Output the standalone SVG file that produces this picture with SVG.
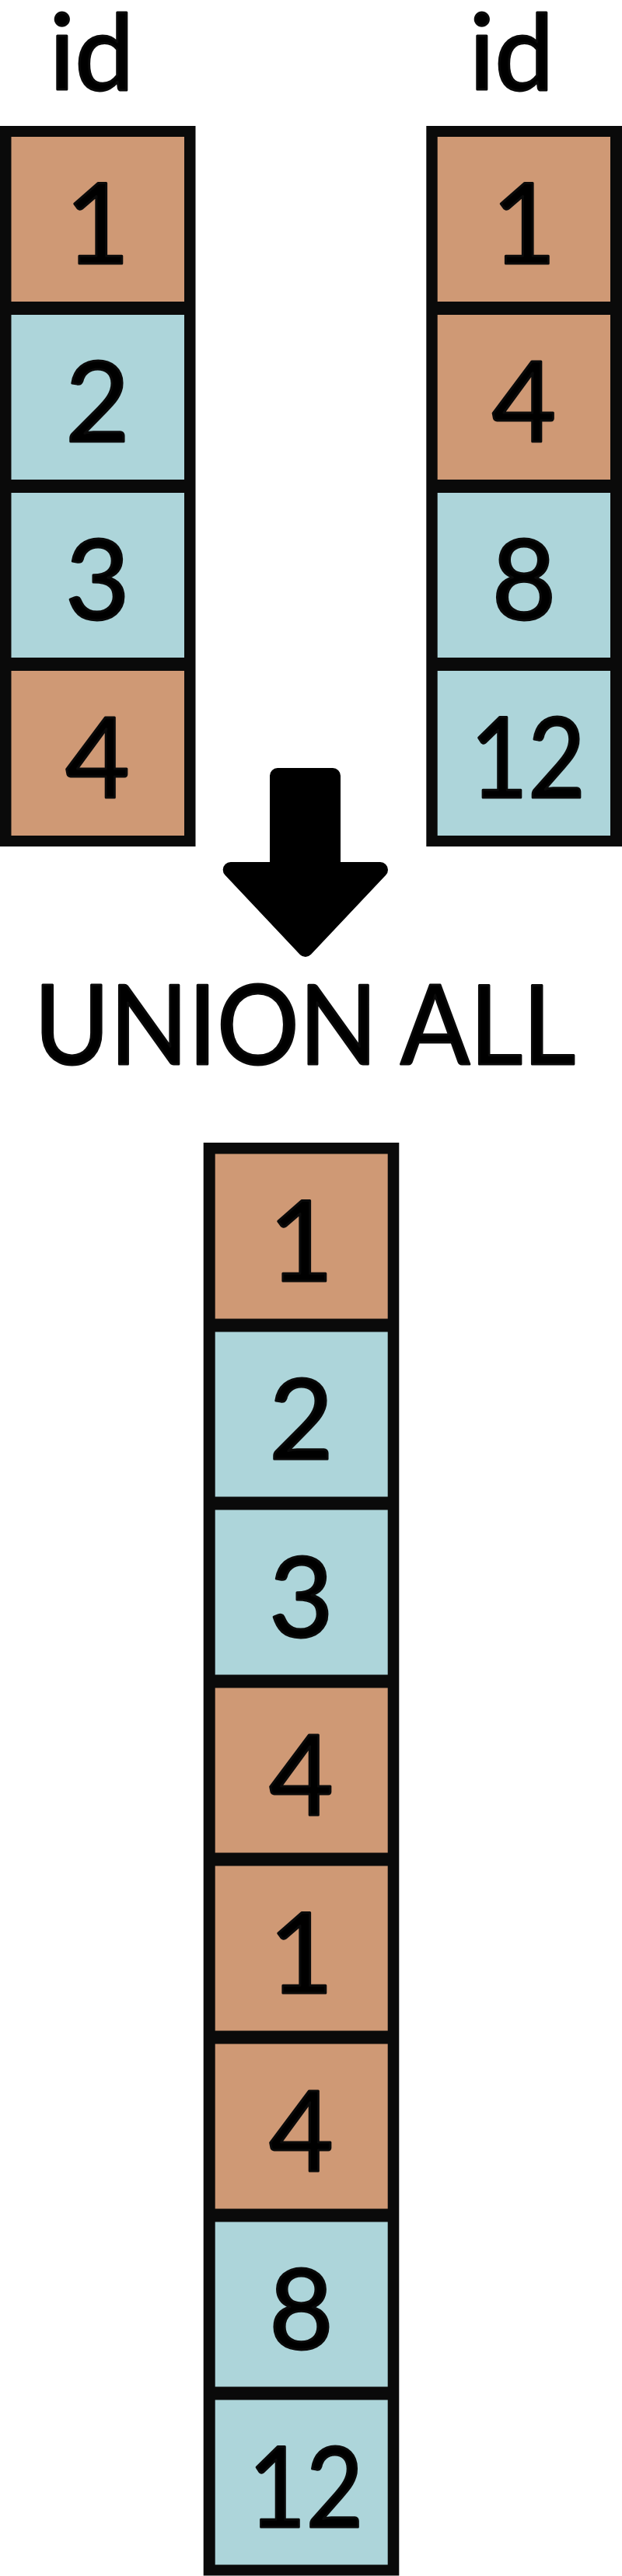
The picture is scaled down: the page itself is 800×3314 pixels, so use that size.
<svg xmlns="http://www.w3.org/2000/svg" width="800" height="3314" viewBox="0 0 800 3314">
<style>
.frame{fill:#0a0a0a}
.o{fill:#cf9975}
.b{fill:#add5da}
.t{font-family:Lato,"Open Sans","DejaVu Sans",sans-serif;fill:#000;stroke:#0a0a0a;stroke-width:3;stroke-linejoin:round;text-anchor:middle}
.num{font-size:143px}
.lbl{font-size:136px}
</style>
<rect width="800" height="3314" fill="#ffffff"/>
<g id="label-left-id"><text class="t lbl" x="118" y="116">id</text></g>
<g id="label-right-id"><text class="t lbl" x="658" y="116">id</text></g>
<g id="table-left">
<rect class="frame" x="0" y="162" width="251.5" height="927"/>
<g id="left-1"><rect class="o" x="14.5" y="176" width="222.5" height="212"/><text class="t num" x="125.5" y="339">1</text></g>
<g id="left-2"><rect class="b" x="14.5" y="405" width="222.5" height="212"/><text class="t num" x="125.5" y="568">2</text></g>
<g id="left-3"><rect class="b" x="14.5" y="634" width="222.5" height="212"/><text class="t num" x="125.5" y="797">3</text></g>
<g id="left-4"><rect class="o" x="14.5" y="863" width="222.5" height="212"/><text class="t num" x="125.5" y="1026">4</text></g>
</g>
<g id="table-right">
<rect class="frame" x="548.3" y="162" width="251.7" height="927"/>
<g id="right-1"><rect class="o" x="562.7" y="176" width="222.3" height="212"/><text class="t num" x="674" y="339">1</text></g>
<g id="right-4"><rect class="o" x="562.7" y="405" width="222.3" height="212"/><text class="t num" x="674" y="568">4</text></g>
<g id="right-8"><rect class="b" x="562.7" y="634" width="222.3" height="212"/><text class="t num" x="674" y="797">8</text></g>
<g id="right-12"><rect class="b" x="562.7" y="863" width="222.3" height="212"/><text class="t num" x="679" y="1026" textLength="148" lengthAdjust="spacingAndGlyphs">12</text></g>
</g>
<g id="connectors">
<path d="M357,998 L428,998 L428,1119 L489,1119 L392.8,1221 L296.7,1119 L357,1119 Z" fill="#000" stroke="#000" stroke-width="20" stroke-linejoin="round"/>
</g>
<g id="label-union-all"><text class="t" x="392" y="1369" font-size="142" textLength="696" lengthAdjust="spacingAndGlyphs">UNION ALL</text></g>
<g id="table-result">
<rect class="frame" x="261.7" y="1470" width="251.6" height="1843.5"/>
<g id="res-1"><rect class="o" x="276.7" y="1484.5" width="222" height="212"/><text class="t num" x="387.5" y="1647.5">1</text></g>
<g id="res-2"><rect class="b" x="276.7" y="1713.5" width="222" height="212"/><text class="t num" x="387.5" y="1876.5">2</text></g>
<g id="res-3"><rect class="b" x="276.7" y="1942.5" width="222" height="212"/><text class="t num" x="387.5" y="2105.5">3</text></g>
<g id="res-4"><rect class="o" x="276.7" y="2171.5" width="222" height="212"/><text class="t num" x="387.5" y="2334.5">4</text></g>
<g id="res-5"><rect class="o" x="276.7" y="2400.5" width="222" height="212"/><text class="t num" x="387.5" y="2563.5">1</text></g>
<g id="res-6"><rect class="o" x="276.7" y="2629.5" width="222" height="212"/><text class="t num" x="387.5" y="2792.5">4</text></g>
<g id="res-7"><rect class="b" x="276.7" y="2858.5" width="222" height="212"/><text class="t num" x="387.5" y="3021.5">8</text></g>
<g id="res-8"><rect class="b" x="276.7" y="3087.5" width="222" height="212"/><text class="t num" x="393.5" y="3250.5" textLength="148" lengthAdjust="spacingAndGlyphs">12</text></g>
</g>
</svg>
